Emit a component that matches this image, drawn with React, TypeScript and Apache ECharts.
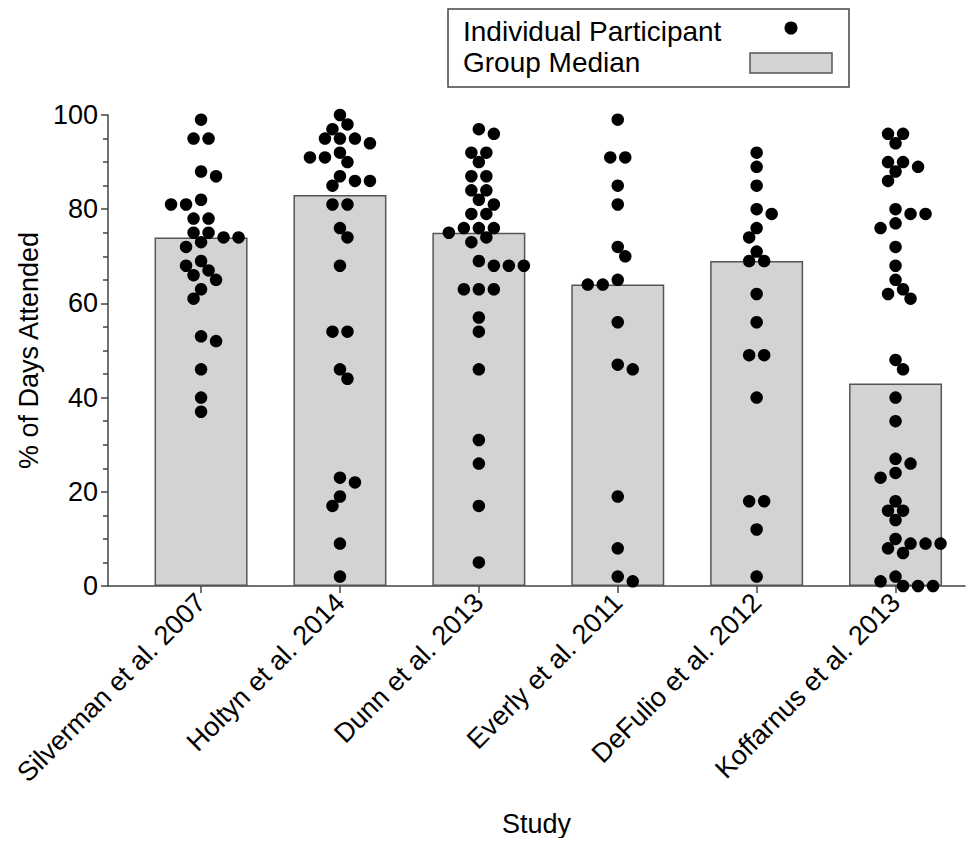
import React, { useEffect, useRef } from "react";
import * as echarts from "echarts";

const studies = [
  "Silverman et al. 2007",
  "Holtyn et al. 2014",
  "Dunn et al. 2013",
  "Everly et al. 2011",
  "DeFulio et al. 2012",
  "Koffarnus et al. 2013",
];

const medians = [74, 83, 75, 64, 69, 43];

const silverman = [99, 95, 95, 88, 87, 82, 81, 81, 78, 78, 75, 75, 74, 74, 73, 72, 69, 68, 67, 66, 65, 63, 61, 53, 52, 46, 40, 37];
const holtyn = [100, 98, 97, 95, 95, 95, 94, 92, 91, 91, 90, 87, 86, 86, 85, 81, 81, 76, 74, 68, 54, 54, 46, 44, 23, 22, 19, 17, 9, 2];
const dunn = [97, 96, 92, 92, 90, 87, 87, 84, 84, 82, 81, 79, 79, 76, 76, 76, 75, 74, 73, 69, 68, 68, 68, 63, 63, 63, 57, 54, 46, 31, 26, 17, 5];
const everly = [99, 91, 91, 85, 81, 72, 70, 65, 64, 64, 56, 47, 46, 19, 8, 2, 1];
const defulio = [92, 89, 85, 80, 79, 76, 74, 71, 69, 69, 62, 56, 49, 49, 40, 18, 18, 12, 2];
const koffarnus = [96, 96, 94, 90, 90, 89, 88, 86, 80, 79, 79, 77, 76, 72, 68, 65, 63, 62, 61, 48, 46, 40, 35, 27, 26, 24, 23, 18, 16, 16, 14, 10, 9, 9, 9, 8, 7, 2, 1, 0, 0, 0];

const participants = [silverman, holtyn, dunn, everly, defulio, koffarnus];

const yTicks = [0, 20, 40, 60, 80, 100];

// layout constants
const GRID_LEFT = 108;
const GRID_RIGHT_X = 965;
const GRID_TOP = 115;
const GRID_BOTTOM_Y = 586;
const X_MIN = -0.67;
const X_MAX = 5.5;
const PX_X = (GRID_RIGHT_X - GRID_LEFT) / (X_MAX - X_MIN);
const PX_Y = (GRID_BOTTOM_Y - GRID_TOP) / 100;
const STEP = 7.5;
const COLL = 10.5;
const FONT = "'Liberation Sans', Arial, sans-serif";
const FS = 27;
const AXIS_COLOR = "#444";

function swarm(values: number[], xi: number): number[][] {
  const placed: { x: number; y: number }[] = [];
  const sorted = [...values].sort((a, b) => b - a);
  const out: number[][] = [];
  let i = 0;
  while (i < sorted.length) {
    let j = i;
    while (j < sorted.length && sorted[j] === sorted[i]) j++;
    const n = j - i;
    const y = sorted[i] * PX_Y;
    const base: number[] = [];
    for (let m = 0; m < n; m++) base.push((m - (n - 1) / 2) * 2 * STEP);
    let near = 0;
    placed.forEach((p) => {
      if (Math.abs(p.y - y) < 3 * COLL) near += p.x;
    });
    let chosen: number[] | null = null;
    for (let k = 0; k < 60 && !chosen; k++) {
      const shifts = k === 0 ? [0] : near > 0 ? [-k * STEP, k * STEP] : [k * STEP, -k * STEP];
      for (const s of shifts) {
        const xs = base.map((b) => b + s);
        const ok = xs.every((x) =>
          placed.every((p) => Math.hypot(p.x - x, p.y - y) >= COLL)
        );
        if (ok) {
          chosen = xs;
          break;
        }
      }
    }
    (chosen || base).forEach((x) => {
      placed.push({ x, y });
      out.push([xi + x / PX_X, sorted[i]]);
    });
    i = j;
  }
  return out;
}

export default function App() {
  const ref = useRef<HTMLDivElement>(null);
  useEffect(() => {
    if (!ref.current) return;
    const chart = echarts.init(ref.current, null, { renderer: "svg" });
    const dots: number[][] = [];
    participants.forEach((vals, i) => swarm(vals, i).forEach((d) => dots.push(d)));
    const idx = studies.map((_, i) => i);
    chart.setOption({
      animation: false,
      backgroundColor: "#ffffff",
      textStyle: { fontFamily: FONT },
      grid: {
        left: GRID_LEFT,
        right: 980 - GRID_RIGHT_X,
        top: GRID_TOP,
        bottom: 846 - GRID_BOTTOM_Y,
        containLabel: false,
        outerBoundsMode: "none",
      },
      xAxis: {
        type: "value",
        min: X_MIN,
        max: X_MAX,
        name: "Study",
        nameLocation: "middle",
        nameGap: 224,
        nameTextStyle: { fontSize: FS, color: "#000", fontFamily: FONT },
        splitLine: { show: false },
        axisLine: { show: true, onZero: false, lineStyle: { color: AXIS_COLOR, width: 1.5 } },
        axisTick: { show: true, customValues: idx, length: 7, lineStyle: { color: AXIS_COLOR, width: 1.5 } },
        minorTick: { show: false },
        axisLabel: {
          customValues: idx,
          rotate: 45,
          margin: 12,
          fontSize: FS,
          color: "#000",
          fontFamily: FONT,
          formatter: (v: number) => studies[Math.round(v)] ?? "",
        },
      },
      yAxis: {
        type: "value",
        min: 0,
        max: 100,
        interval: 20,
        name: "% of Days Attended",
        nameLocation: "middle",
        nameGap: 66,
        nameTextStyle: { fontSize: FS, color: "#000", fontFamily: FONT },
        splitLine: { show: false },
        axisLine: { show: true, onZero: false, lineStyle: { color: AXIS_COLOR, width: 1.5 } },
        axisTick: { show: true, length: 7, lineStyle: { color: AXIS_COLOR, width: 1.5 } },
        minorTick: { show: true, splitNumber: 4, length: 5, lineStyle: { color: AXIS_COLOR, width: 1.5 } },
        axisLabel: {
          margin: 10,
          fontSize: FS,
          color: "#000",
          fontFamily: FONT,
          formatter: (v: number) => (yTicks.includes(v) ? String(v) : ""),
        },
      },
      series: [
        {
          type: "bar",
          data: medians.map((m, i) => [i, m]),
          barWidth: 93,
          itemStyle: { color: "#d3d3d3", borderColor: "#555", borderWidth: 1.5 },
          z: 1,
        },
        {
          type: "scatter",
          data: dots,
          symbol: "circle",
          symbolSize: 12.5,
          itemStyle: { color: "#000", opacity: 1 },
          z: 3,
        },
      ],
      graphic: [
        {
          type: "rect",
          shape: { x: 448, y: 9, width: 401, height: 78 },
          style: { fill: "#fff", stroke: "#444", lineWidth: 1.5 },
        },
        {
          type: "text",
          x: 463,
          y: 31,
          style: { text: "Individual Participant", fontSize: 28, fontFamily: FONT, fill: "#000", verticalAlign: "middle" },
        },
        {
          type: "text",
          x: 463,
          y: 62,
          style: { text: "Group Median", fontSize: 28, fontFamily: FONT, fill: "#000", verticalAlign: "middle" },
        },
        {
          type: "circle",
          shape: { cx: 791, cy: 28, r: 6.5 },
          style: { fill: "#000" },
        },
        {
          type: "rect",
          shape: { x: 750, y: 53, width: 82, height: 20 },
          style: { fill: "#d3d3d3", stroke: "#555", lineWidth: 1.5 },
        },
      ],
    });
    return () => chart.dispose();
  }, []);
  return <div ref={ref} style={{ width: 980, height: 846, margin: -8 }} />;
}
